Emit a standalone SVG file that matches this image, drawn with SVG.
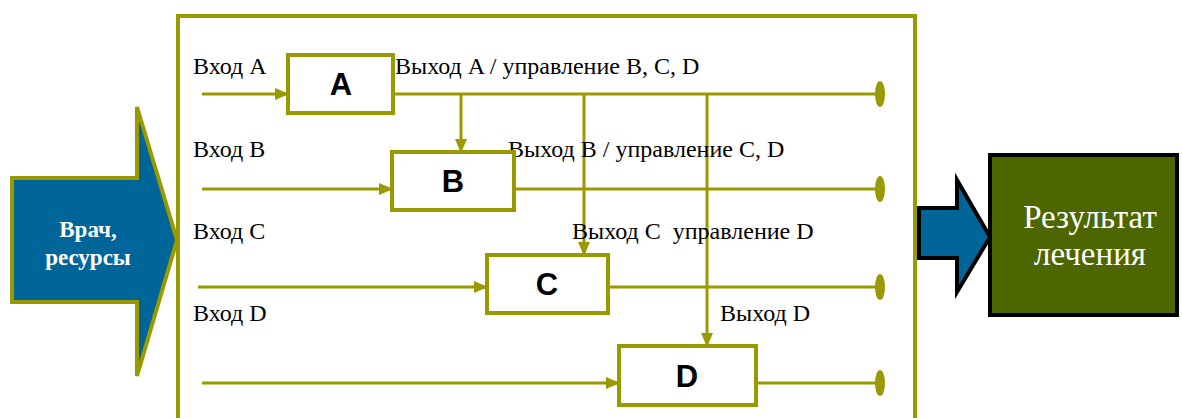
<svg xmlns="http://www.w3.org/2000/svg" width="1182" height="418" viewBox="0 0 1182 418">
<defs>
<style>
.ol{stroke:#999900;fill:none;stroke-width:3}
.box{stroke:#999900;fill:#fff;stroke-width:4}
.lbl{font-family:'Liberation Serif','Times New Roman',serif;font-size:24px;fill:#000}
.blk{font-family:'Liberation Sans',Arial,sans-serif;font-size:31px;font-weight:bold;fill:#000;text-anchor:middle}
.dot{fill:#999900}
.wt{font-family:'Liberation Serif','Times New Roman',serif;fill:#fff;text-anchor:middle}
</style>
<marker id="ah" markerWidth="14" markerHeight="12" refX="13" refY="6" orient="auto" markerUnits="userSpaceOnUse">
<path d="M0,0 L14,6 L0,12 Z" fill="#999900"/>
</marker>
</defs>
<rect width="1182" height="418" fill="#fff"/>
<g id="frame"><rect x="178" y="16" width="737" height="430" fill="none" stroke="#999900" stroke-width="4"/></g>
<g id="input-arrow">
<path d="M12,178 L137,178 L137,107 L177,240 L137,376 L137,302 L12,302 Z" fill="#006699" stroke="#999900" stroke-width="4"/>
<text x="88" y="237" class="wt" font-weight="bold" font-size="23">Врач,</text>
<text x="88" y="265" class="wt" font-weight="bold" font-size="23">ресурсы</text>
</g>
<g id="connectors">
<line x1="202" y1="94" x2="288" y2="94" class="ol" marker-end="url(#ah)"/>
<line x1="393" y1="94" x2="880" y2="94" class="ol"/>
<line x1="461" y1="94" x2="461" y2="152" class="ol" marker-end="url(#ah)"/>
<line x1="584" y1="94" x2="584" y2="255" class="ol" marker-end="url(#ah)"/>
<line x1="707" y1="94" x2="707" y2="346" class="ol" marker-end="url(#ah)"/>
<line x1="202" y1="189" x2="392" y2="189" class="ol" marker-end="url(#ah)"/>
<line x1="514" y1="189" x2="880" y2="189" class="ol"/>
<line x1="198" y1="287" x2="487" y2="287" class="ol" marker-end="url(#ah)"/>
<line x1="608" y1="287" x2="880" y2="287" class="ol"/>
<line x1="202" y1="383" x2="619" y2="383" class="ol" marker-end="url(#ah)"/>
<line x1="756" y1="383" x2="880" y2="383" class="ol"/>
<ellipse cx="880" cy="94" rx="5" ry="13" class="dot"/>
<ellipse cx="880" cy="189" rx="5" ry="13" class="dot"/>
<ellipse cx="880" cy="287" rx="5" ry="13" class="dot"/>
<ellipse cx="880" cy="383" rx="5" ry="13" class="dot"/>
</g>
<g id="labels">
<text x="193" y="74" class="lbl">Вход A</text>
<text x="395" y="74" class="lbl">Выход A / управление B, C, D</text>
<text x="193" y="157" class="lbl">Вход B</text>
<text x="508" y="157" class="lbl">Выход B / управление C, D</text>
<text x="193" y="239" class="lbl">Вход C</text>
<text x="572" y="239" class="lbl" xml:space="preserve">Выход C  управление D</text>
<text x="193" y="321" class="lbl">Вход D</text>
<text x="720" y="321" class="lbl">Выход D</text>
</g>
<g id="node-A"><rect x="288" y="55" width="105" height="58" class="box"/><text x="341" y="95" class="blk">A</text></g>
<g id="node-B"><rect x="392" y="152" width="122" height="58" class="box"/><text x="453" y="192" class="blk">B</text></g>
<g id="node-C"><rect x="487" y="255" width="121" height="58" class="box"/><text x="547" y="295" class="blk">C</text></g>
<g id="node-D"><rect x="619" y="346" width="137" height="59" class="box"/><text x="687" y="387" class="blk">D</text></g>
<g id="output-arrow"><path d="M919,208 L957,208 L957,180 L990,237 L957,292 L957,258 L919,258 Z" fill="#006699" stroke="#000" stroke-width="4"/></g>
<g id="result">
<rect x="990" y="155" width="187" height="160" fill="#4d6600" stroke="#000" stroke-width="4"/>
<text x="1090" y="228" class="wt" font-size="33">Результат</text>
<text x="1090" y="265" class="wt" font-size="33">лечения</text>
</g>
</svg>
